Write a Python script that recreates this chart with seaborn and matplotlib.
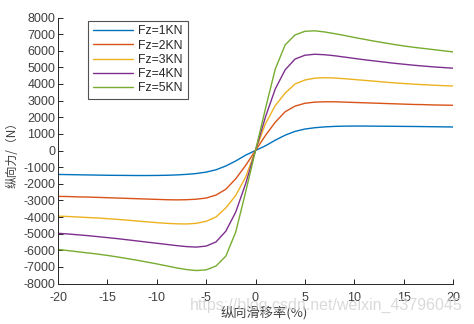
import numpy as np
import pandas as pd
import seaborn as sns
import matplotlib
matplotlib.use("Agg")
import matplotlib.pyplot as plt

# Longitudinal slip ratio (%)
slip = list(range(-20, 21))

# Longitudinal tyre force (N) for each vertical load
fx_1kn = [-1440, -1450, -1460, -1470, -1480, -1490, -1495, -1500, -1505, -1505,
          -1500, -1490, -1470, -1435, -1385, -1300, -1160, -930, -630, -280,
          0,
          280, 620, 920, 1150, 1290, 1370, 1420, 1450, 1465, 1470,
          1470, 1465, 1460, 1455, 1450, 1445, 1438, 1430, 1422, 1415]
fx_2kn = [-2760, -2770, -2790, -2800, -2820, -2840, -2860, -2880, -2900, -2920,
          -2940, -2960, -2970, -2960, -2930, -2860, -2680, -2330, -1700, -900,
          0,
          900, 1700, 2330, 2670, 2840, 2910, 2930, 2930, 2910, 2890,
          2870, 2850, 2830, 2810, 2790, 2770, 2760, 2740, 2730, 2720]
fx_3kn = [-3950, -3970, -4000, -4030, -4060, -4100, -4140, -4190, -4240, -4290,
          -4340, -4380, -4410, -4420, -4380, -4260, -4000, -3450, -2700, -1600,
          0,
          1600, 2700, 3450, 4000, 4240, 4350, 4380, 4360, 4320, 4270,
          4220, 4170, 4120, 4070, 4030, 3990, 3960, 3930, 3900, 3880]
fx_4kn = [-4980, -5020, -5070, -5120, -5180, -5240, -5300, -5370, -5440, -5510,
          -5580, -5650, -5720, -5780, -5810, -5750, -5500, -4850, -3700, -2000,
          0,
          2000, 3700, 4850, 5500, 5730, 5790, 5760, 5700, 5620, 5540,
          5460, 5390, 5320, 5250, 5190, 5130, 5080, 5030, 4990, 4950]
fx_5kn = [-5950, -6020, -6090, -6160, -6230, -6310, -6400, -6500, -6600, -6710,
          -6820, -6940, -7060, -7160, -7220, -7180, -6950, -6350, -4900, -2500,
          0,
          2500, 4900, 6350, 6950, 7170, 7200, 7130, 7030, 6920, 6800,
          6690, 6580, 6480, 6380, 6290, 6210, 6140, 6070, 6000, 5930]

labels = ["Fz=1KN", "Fz=2KN", "Fz=3KN", "Fz=4KN", "Fz=5KN"]
series = [fx_1kn, fx_2kn, fx_3kn, fx_4kn, fx_5kn]
colors = ["#0072BD", "#D95319", "#EDB120", "#7E2F8E", "#77AC30"]

x_ticks = list(range(-20, 21, 5))
y_ticks = list(range(-8000, 8001, 1000))

sns.set_theme(style="white")
plt.rcParams["font.family"] = ["Liberation Sans", "DejaVu Sans"]
axis_gray = "#262626"
text_gray = "#404040"

fig = plt.figure(figsize=(4.74, 3.24), dpi=100)
ax = fig.add_axes([58 / 474, 1 - 283.5 / 324, 395 / 474, 266 / 324])

for lab, vals, col in zip(labels, series, colors):
    sns.lineplot(x=slip, y=vals, ax=ax, color=col, linewidth=1.0, label=lab)

ax.set_xlim(-20, 20)
ax.set_ylim(-8000, 8000)
ax.set_xticks(x_ticks)
ax.set_yticks(y_ticks)
ax.set_xticklabels([str(v) for v in x_ticks])
ax.set_yticklabels([str(v) for v in y_ticks])

for side in ("top", "right"):
    ax.spines[side].set_visible(False)
for side in ("left", "bottom"):
    ax.spines[side].set_color(axis_gray)
    ax.spines[side].set_linewidth(0.7)

ax.tick_params(axis="both", direction="in", length=3.5, width=0.7,
               colors=axis_gray, labelcolor=text_gray, labelsize=9,
               left=True, bottom=True)
ax.tick_params(axis="y", pad=2)
ax.tick_params(axis="x", pad=6)
ax.set_xlabel("")
ax.set_ylabel("")

leg = ax.legend(loc="upper left", bbox_to_anchor=(88 / 474, 1 - 20.5 / 324),
                bbox_transform=fig.transFigure, frameon=True, fancybox=False,
                fontsize=8.8, handlelength=3.3, handletextpad=0.4,
                labelspacing=0.18, borderpad=0.4, borderaxespad=0)
leg.get_frame().set_edgecolor(axis_gray)
leg.get_frame().set_linewidth(0.8)
for t in leg.get_texts():
    t.set_color(axis_gray)

cjk = ["Noto Sans CJK SC", "DejaVu Sans"]
fig.text(12 / 474, 1 - 152 / 324, "纵向力/（N）", rotation=90,
         ha="center", va="center", fontsize=8.5, color=text_gray, family=cjk)
fig.text(264 / 474, 1 - 313 / 324, "纵向滑移率(%)",
         ha="center", va="center", fontsize=9.5, color=text_gray, family=cjk)

# blog address stamped over the lower right corner
fig.text(463 / 474, 1 - 305 / 324, "https://blog.csdn.net/weixin_43796045",
         ha="right", va="center", fontsize=11.5, color="#d4d4d4", alpha=0.85,
         family=["Liberation Sans", "DejaVu Sans"])

fig.savefig("out.png", dpi=100, facecolor="white")
